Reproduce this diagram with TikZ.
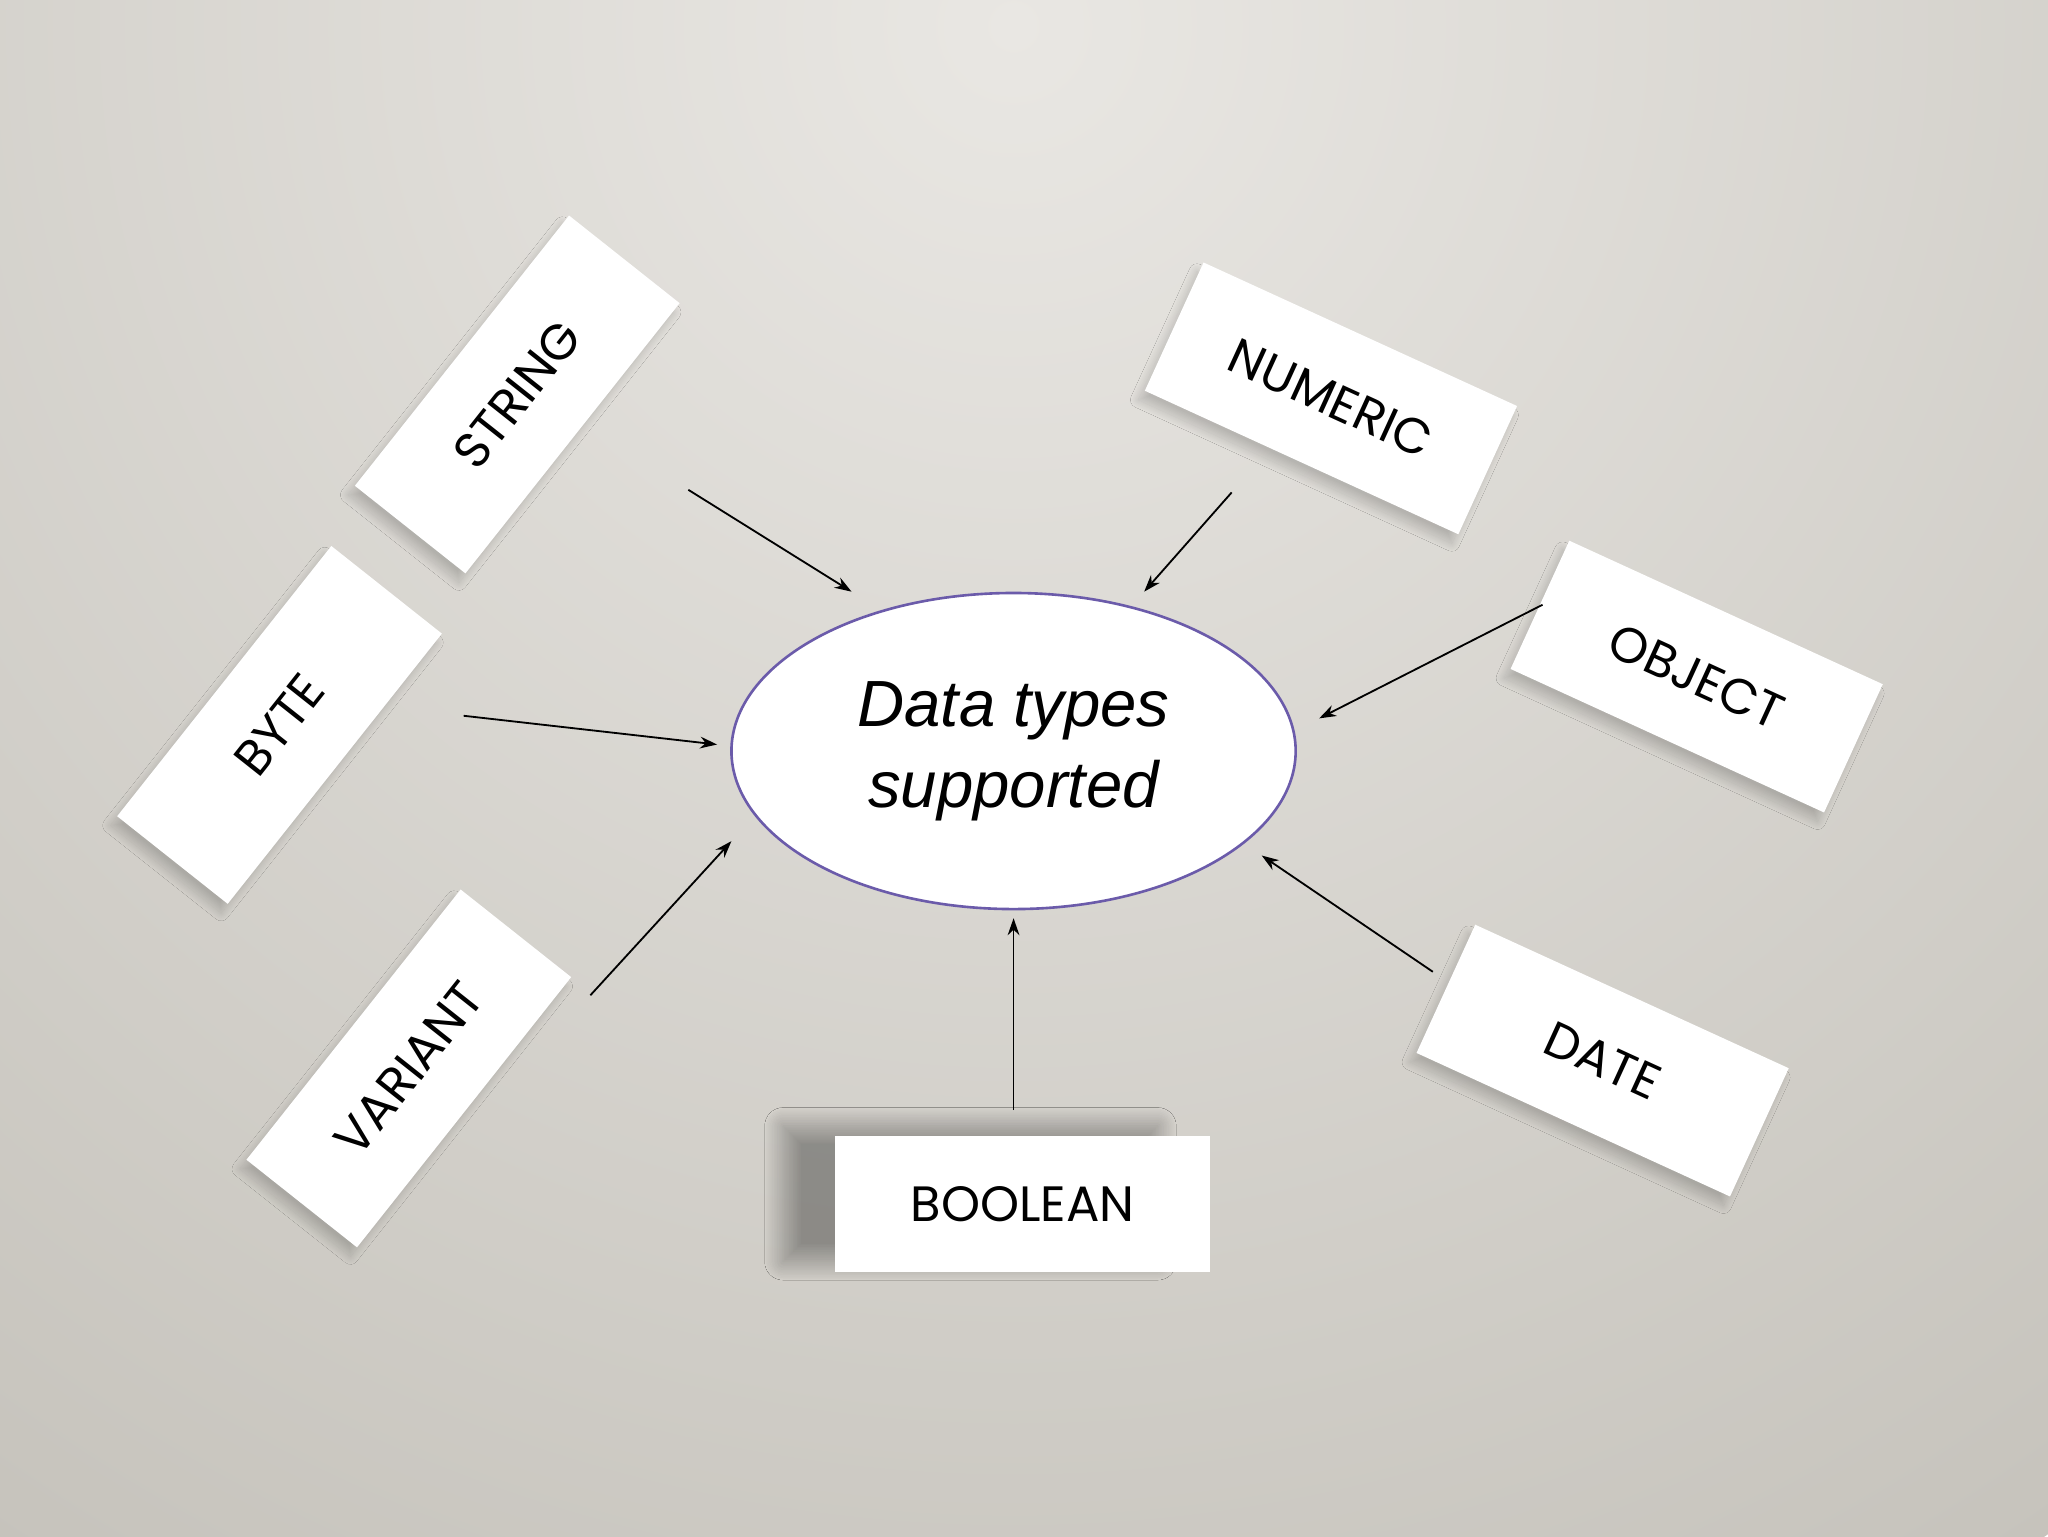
\documentclass[tikz,border=0pt]{standalone}
\usepackage{fontspec}
\setmainfont{Liberation Sans}
\newfontfamily\lblfont{Poppins}
\usetikzlibrary{shapes.geometric,arrows.meta,shadows.blur}
\definecolor{bgin}{HTML}{E9E7E3}
\definecolor{bgout}{HTML}{C6C3BC}
\definecolor{ellc}{HTML}{6B5BAA}
\begin{document}
\begin{tikzpicture}[x=1pt,y=-1pt,
  card/.style={draw=none,fill=white,minimum width=264pt,minimum height=108pt,
    font=\lblfont\fontsize{38}{40}\selectfont,inner sep=0pt,
    blur shadow={shadow blur steps=30,shadow blur radius=6pt,shadow blur extra rounding=0pt,shadow xshift=-5pt,shadow yshift=-7pt,shadow opacity=18}},
  arr/.style={line width=1.4pt,-{Stealth[length=13pt,width=9pt]}}]
\useasboundingbox (0,0) rectangle (1568,1176);
\begin{scope}
\clip (0,0) rectangle (1568,1176);
\shade[inner color=bgin, outer color=bgout] (776,20) circle (1400);
\end{scope}
\node[card,rotate=51.6] (string) at (396,302) {STRING};
\node[card,rotate=51.6] (byte) at (214,555) {BYTE};
\node[card,rotate=51.6] (variant) at (313,818) {VARIANT};
\node[card,rotate=-24.6] (numeric) at (1019,305) {NUMERIC};
\node[card,rotate=-24.6] (object) at (1299,518) {OBJECT};
\node[card,rotate=-24.6] (date) at (1227,812) {DATE};
\node[card,minimum width=287pt,minimum height=104pt,
  blur shadow={shadow blur steps=30,shadow blur radius=14pt,shadow blur extra rounding=0pt,shadow xshift=-40pt,shadow yshift=8pt,shadow opacity=18}] (boolean) at (783,922) {BOOLEAN};
\node[ellipse,draw=ellc,line width=2pt,fill=white,
  minimum width=432pt,minimum height=242pt,align=center,
  font=\itshape\fontsize{50}{62}\selectfont] (center) at (776,575) {Data types\\supported};
\coordinate (s1) at (527,375); \coordinate (e1) at (652,453);
\coordinate (s2) at (943,377); \coordinate (e2) at (876,453);
\coordinate (s3) at (1181,463); \coordinate (e3) at (1010,550);
\coordinate (s4) at (355,548); \coordinate (e4) at (549,570);
\coordinate (s5) at (452,762); \coordinate (e5) at (560,644);
\coordinate (s6) at (776,850); \coordinate (e6) at (776,703);
\coordinate (s7) at (1097,744); \coordinate (e7) at (966,655);
\foreach \i in {1,...,7} \draw[arr] (s\i) -- (e\i);
\end{tikzpicture}
\end{document}
